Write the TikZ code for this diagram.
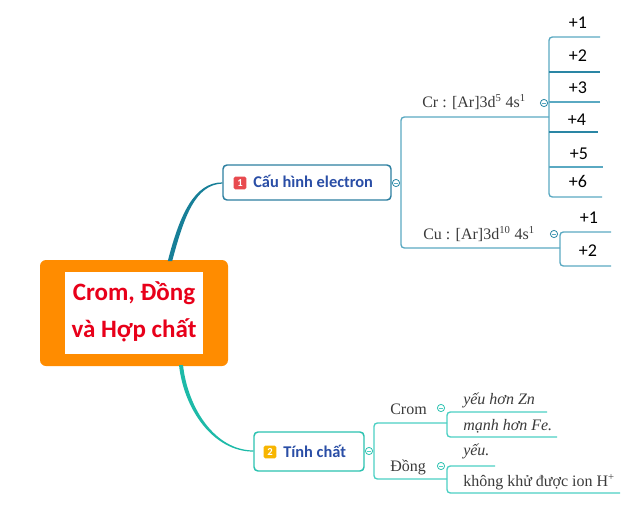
\documentclass[tikz,border=0pt]{standalone}
\usepackage{fontspec}
\setmainfont{Liberation Serif}
\newfontfamily\calfont{Carlito}
\definecolor{orangeM}{HTML}{FF8C00}
\definecolor{redT}{HTML}{E8001A}
\definecolor{curveA}{HTML}{177F98}
\definecolor{borderA}{HTML}{2C7FA0}
\definecolor{curveB}{HTML}{1DBAA8}
\definecolor{borderB}{HTML}{2BC2B0}
\definecolor{lineL}{HTML}{5AA9C2}
\definecolor{lineD}{HTML}{2A86A4}
\definecolor{lineT}{HTML}{4CCFC3}
\definecolor{txtgray}{HTML}{3A3A3A}
\definecolor{blueT}{HTML}{2A4EA6}
\definecolor{badgeR}{HTML}{E84A4F}
\definecolor{badgeO}{HTML}{F7B500}
\begin{document}
\begin{tikzpicture}[x=0.75pt,y=-0.75pt,
  serif/.style={font=\fontsize{12}{14}\selectfont, text=txtgray, inner sep=0, anchor=base west},
  serifit/.style={serif, font=\itshape\fontsize{12}{14}\selectfont},
  num/.style={font=\calfont\fontsize{13.5}{16}\selectfont, text=black, inner sep=0, anchor=base},
  title/.style={font=\calfont\bfseries\fontsize{12.3}{14}\selectfont, text=blueT, inner sep=0, anchor=base west},
  badge/.style={rounded corners=1.2pt, minimum size=9.5pt, inner sep=0, text=white, font=\calfont\bfseries\fontsize{8}{9}\selectfont},
  toggleA/.style={circle, draw=lineD, line width=0.6pt, fill=white, minimum size=5.4pt, inner sep=0,
    path picture={\draw[lineL, line width=0.5pt] ([xshift=-1.5pt]path picture bounding box.center) -- ([xshift=1.5pt]path picture bounding box.center);}},
  toggleB/.style={toggleA, draw=borderB, path picture={\draw[lineT, line width=0.5pt] ([xshift=-1.5pt]path picture bounding box.center) -- ([xshift=1.5pt]path picture bounding box.center);}},
  lA/.style={lineL, line width=1pt, rounded corners=2.5pt},
  lD/.style={lineD, line width=1pt},
  lT/.style={lineT, line width=1pt, rounded corners=2.5pt}
]
\useasboundingbox (0,0) rectangle (640,507);

% root
\node[fill=orangeM, rounded corners=4.5pt, minimum width=141pt, minimum height=79.5pt, inner sep=0] (root) at (134,313) {};
\node[fill=white, minimum width=103.5pt, minimum height=61.5pt, inner sep=0] (rootin) at (134,313) {};
\node[font=\calfont\bfseries\fontsize{18.75}{22}\selectfont, text=redT, inner sep=0, anchor=base] (rt1) at (134,300) {Crom, Đồng};
\node[font=\calfont\bfseries\fontsize{18.75}{22}\selectfont, text=redT, inner sep=0, anchor=base] (rt2) at (134,337.3) {và Hợp chất};

% main topic 1
\node[draw=borderA, line width=1.1pt, rounded corners=3pt, fill=white, minimum width=126pt, minimum height=26.25pt, inner sep=0] (n1) at (307,182.5) {};
\node[badge, fill=badgeR] (b1) at (240,183) {1};
\node[title] (t1) at (253,187.3) {Cấu hình electron};

% main topic 2
\node[draw=borderB, line width=1.1pt, rounded corners=3pt, fill=white, minimum width=82.5pt, minimum height=29.25pt, inner sep=0] (n2) at (309,451.5) {};
\node[badge, fill=badgeO] (b2) at (270,452) {2};
\node[title] (t2) at (283,457.3) {Tính chất};

% tapered curves root -> topics
\fill[curveA] (167.8,261) .. controls (179.8,214) and (194.5,182.4) .. (n1.west |- 0,182.4)
  -- (n1.west |- 0,183.6) .. controls (195.5,184.6) and (184.2,216) .. (172.2,261) -- cycle;
\fill[curveB] (179,365) .. controls (184,410.5) and (214,451.6) .. (n2.west |- 0,451.6)
  -- (n2.west |- 0,450.4) .. controls (216,450.4) and (188,409.5) .. (183,365) -- cycle;

% ---- branch 1 ----
\coordinate (crEnd) at (549,117);
\coordinate (cuEnd) at (560,248);
\draw[lA] (crEnd) -- (401,117) -- (401,248) -- (cuEnd);
\node[toggleA] (tg1) at (396,183) {};

\node[serif] (cr) at (422,107.5) {Cr : [Ar]3d\textsuperscript{5} 4s\textsuperscript{1}};
\node[serif] (cu) at (423,239.3) {Cu : [Ar]3d\textsuperscript{10} 4s\textsuperscript{1}};
\node[toggleA] (tgcr) at (544,103) {};
\node[toggleA] (tgcu) at (554,234) {};

% Cr children
\node[num] (p1) at (578,28.3) {+1};
\node[num] (p2) at (578,61.7) {+2};
\node[num] (p3) at (578,93.3) {+3};
\node[num] (p4) at (577,125) {+4};
\node[num] (p5) at (579,159.3) {+5};
\node[num] (p6) at (578,187.3) {+6};
\draw[lA] (600,37) -- (549,37) -- (549,197) -- (602,197);
\draw[lD] (549,72) -- (600,72);
\draw[lA] (549,102) -- (600,102);
\draw[lD] (549,132) -- (598,132);
\draw[lA] (549,167) -- (603,167);

% Cu children
\node[num] (q1) at (589,223.3) {+1};
\node[num] (q2) at (588,256.7) {+2};
\draw[lA] (611,232) -- (560,232) -- (560,266) -- (611,266);

% ---- branch 2 ----
\node[toggleB] (tg2) at (369,451) {};
\draw[lT] (447,423) -- (374,423) -- (374,479) -- (447,479);
\node[serif] (crom) at (390,414.3) {Crom};
\node[serif] (dong) at (390,471.7) {Đồng};
\node[toggleB] (tgcrom) at (441,408) {};
\node[toggleB] (tgdong) at (441,466) {};

\node[serifit] (s1) at (463,404) {yếu hơn Zn};
\node[serifit] (s2) at (463,430) {mạnh hơn Fe.};
\draw[lT] (547,412) -- (447,412) -- (447,437) -- (557,437);

\node[serifit] (s3) at (463,455) {yếu.};
\node[serif] (s4) at (463,486.7) {không khử được ion H\textsuperscript{+}};
\draw[lT] (495,466) -- (447,466) -- (447,493) -- (620,493);
\end{tikzpicture}
\end{document}
